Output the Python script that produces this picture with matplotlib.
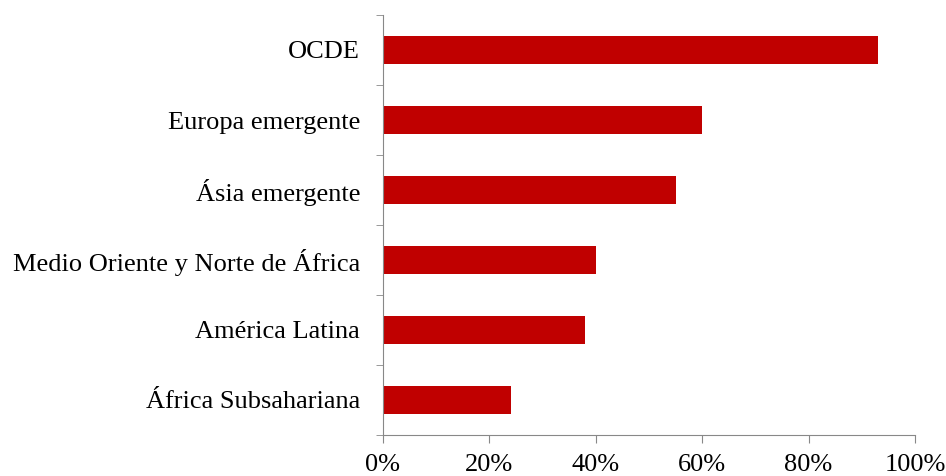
import matplotlib.pyplot as plt
from matplotlib.ticker import PercentFormatter, FixedLocator

regions = ["África Subsahariana", "América Latina", "Medio Oriente y Norte de África",
           "Ásia emergente", "Europa emergente", "OCDE"]
shares = [24, 38, 40, 55, 60, 93]

plt.rcParams['font.family'] = ['Liberation Serif', 'DejaVu Serif']

fig = plt.figure(figsize=(9.46, 4.76), dpi=100)
ax = fig.add_axes([383 / 946, 1 - 435 / 476, 532 / 946, 420 / 476])

pos = list(range(len(regions)))
ax.barh(pos, shares, height=0.4, color="#C00000")

ax.set_xlim(0, 100)
ax.set_ylim(-0.5, len(regions) - 0.5)
ax.xaxis.set_major_formatter(PercentFormatter(decimals=0))
ax.set_xticks([0, 20, 40, 60, 80, 100])

# category labels centred, tick marks on the boundaries
ax.set_yticks(pos)
ax.set_yticklabels(regions, fontsize=19)
ax.tick_params(axis='y', length=0, pad=16.5)
ax.yaxis.set_minor_locator(FixedLocator([p - 0.5 for p in pos] + [len(regions) - 0.5]))
ax.tick_params(axis='y', which='minor', length=5, color='#888888')
ax.tick_params(axis='x', length=6, color='#888888', labelsize=19, pad=8)

for side in ['top', 'right']:
    ax.spines[side].set_visible(False)
for side in ['left', 'bottom']:
    ax.spines[side].set_color('#888888')

fig.savefig("out.png", dpi=100)
